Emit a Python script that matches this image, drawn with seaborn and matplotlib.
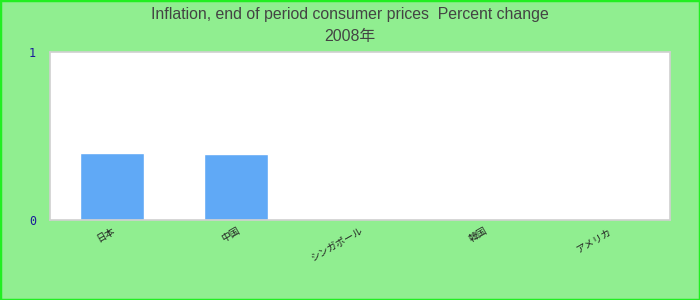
import matplotlib
matplotlib.use("Agg")
import matplotlib.pyplot as plt
import seaborn as sns
import pandas as pd
from matplotlib.patches import Rectangle

categories = ["日本", "中国", "シンガポール", "韓国", "アメリカ"]
values = [0.40, 0.395, 0.0, 0.0, 0.0]
title_line1 = "Inflation, end of period consumer prices  Percent change"
title_line2 = "2008年"
y_ticks = [0, 1]

sns.set_style("white")
plt.rcParams['font.family'] = ['Liberation Sans', 'Noto Sans CJK JP', 'DejaVu Sans']

df = pd.DataFrame({"cat": categories, "val": values})

fig = plt.figure(figsize=(7, 3), dpi=100)
fig.patch.set_facecolor("#90EE90")
ax = fig.add_axes([50/700, 80/300, 620/700, 168/300])
ax.set_facecolor("white")

sns.barplot(data=df, x="cat", y="val", color="#60A9F6", saturation=1,
            width=0.51, ax=ax)

ax.set_ylim(0, 1)
ax.set_yticks(y_ticks)
ax.set_yticklabels([str(t) for t in y_ticks], color="#1a1a9a",
                   fontsize=8.5, family=['DejaVu Sans Mono'])
ax.set_xlabel("")
ax.set_ylabel("")
ax.set_xticks(range(len(categories)))
ax.set_xticklabels(categories, rotation=30, ha="right", rotation_mode="anchor",
                   fontsize=7, color="#222222",
                   family=['Noto Sans CJK JP', 'DejaVu Sans'])
ax.tick_params(axis="both", length=0, pad=4)
ax.tick_params(axis="y", pad=10)
for s in ax.spines.values():
    s.set_visible(True)
    s.set_color("#d0d0d0")
    s.set_linewidth(1.2)
ax.grid(False)

fig.text(0.5, 1 - 14/300, title_line1, ha="center", va="center",
         fontsize=11.4, color="#444444")
fig.text(0.5, 1 - 37/300, title_line2, ha="center", va="center",
         fontsize=11.4, color="#444444",
         family=['Liberation Sans', 'Noto Sans CJK JP'])

fig.patches.append(Rectangle((0, 0), 1, 1, transform=fig.transFigure,
                             fill=False, edgecolor="#22ee22", linewidth=2.5,
                             figure=fig))

fig.savefig("out.png", dpi=100, facecolor=fig.get_facecolor())
